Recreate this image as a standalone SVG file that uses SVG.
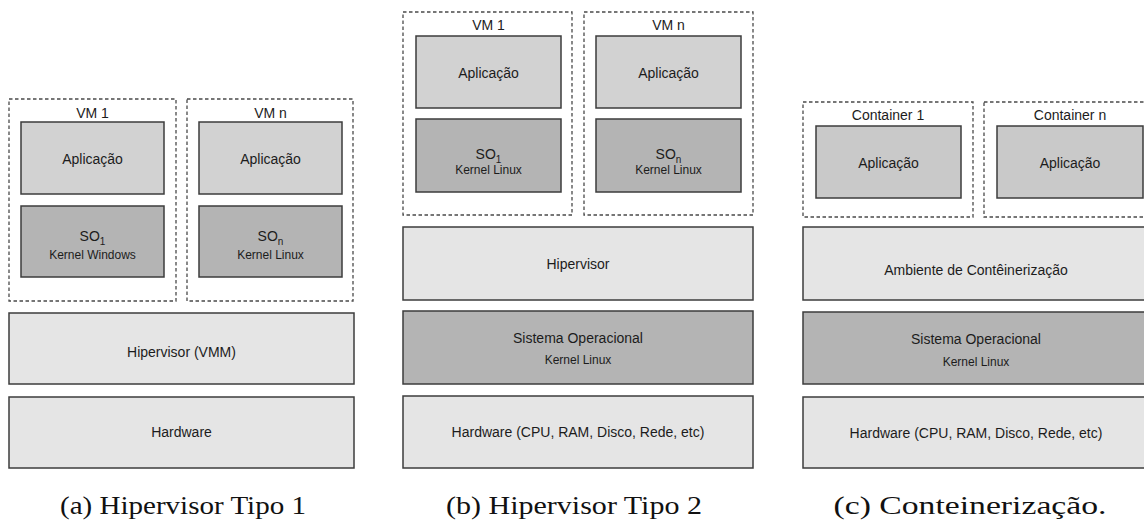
<svg xmlns="http://www.w3.org/2000/svg" width="1144" height="520" viewBox="0 0 1144 520">
  <style>
    .bg { fill: #ffffff; }
    .box { stroke: #3c3c3c; stroke-width: 1.5; }
    .light { fill: #e5e5e5; }
    .app { fill: #d2d2d2; }
    .app2 { fill: #c9c9c9; }
    .os { fill: #b4b4b4; }
    .group { fill: none; stroke: #4a4a4a; stroke-width: 1.3; stroke-dasharray: 3.5 2.5; }
    .lbl { font-family: "Liberation Sans", Arial, sans-serif; font-size: 14px; fill: #1c1c1c; text-anchor: middle; }
    .sub { font-family: "Liberation Sans", Arial, sans-serif; font-size: 12px; fill: #1c1c1c; text-anchor: middle; }
    .idx { font-size: 10px; }
    .cap { font-family: "Liberation Serif", "Times New Roman", serif; font-size: 26px; fill: #111; text-anchor: middle; }
  </style>
  <rect class="bg" x="0" y="0" width="1144" height="520"/>

  <!-- (a) Type 1 hypervisor -->
  <g id="panel-a">
    <g id="a-vm1">
      <rect class="group" x="9" y="99" width="167" height="202"/>
      <text class="lbl" x="92.5" y="118">VM 1</text>
      <rect class="box app" x="21" y="122" width="143" height="72"/>
      <text class="lbl" x="92.5" y="164">Aplicação</text>
      <rect class="box os" x="21" y="206" width="143" height="71"/>
      <text class="lbl" x="92.5" y="241">SO<tspan class="idx" dy="4">1</tspan></text>
      <text class="sub" x="92.5" y="259">Kernel Windows</text>
    </g>
    <g id="a-vmn">
      <rect class="group" x="187" y="99" width="166" height="202"/>
      <text class="lbl" x="270.5" y="118">VM n</text>
      <rect class="box app" x="199" y="122" width="143" height="72"/>
      <text class="lbl" x="270.5" y="164">Aplicação</text>
      <rect class="box os" x="199" y="206" width="143" height="71"/>
      <text class="lbl" x="270.5" y="241">SO<tspan class="idx" dy="4">n</tspan></text>
      <text class="sub" x="270.5" y="259">Kernel Linux</text>
    </g>
    <g id="a-hypervisor">
      <rect class="box light" x="9" y="313" width="345" height="71"/>
      <text class="lbl" x="181.5" y="357">Hipervisor (VMM)</text>
    </g>
    <g id="a-hardware">
      <rect class="box light" x="9" y="397" width="345" height="71"/>
      <text class="lbl" x="181.5" y="437">Hardware</text>
    </g>
    <text class="cap" x="183" y="514" textLength="246" lengthAdjust="spacingAndGlyphs">(a) Hipervisor Tipo 1</text>
  </g>

  <!-- (b) Type 2 hypervisor -->
  <g id="panel-b">
    <g id="b-vm1">
      <rect class="group" x="403" y="12" width="169" height="203"/>
      <text class="lbl" x="488.5" y="30">VM 1</text>
      <rect class="box app" x="416" y="36" width="145" height="72"/>
      <text class="lbl" x="488.5" y="78">Aplicação</text>
      <rect class="box os" x="416" y="119" width="145" height="73"/>
      <text class="lbl" x="488.5" y="159">SO<tspan class="idx" dy="4">1</tspan></text>
      <text class="sub" x="488.5" y="174">Kernel Linux</text>
    </g>
    <g id="b-vmn">
      <rect class="group" x="584" y="12" width="169" height="203"/>
      <text class="lbl" x="668.5" y="30">VM n</text>
      <rect class="box app" x="596" y="36" width="145" height="72"/>
      <text class="lbl" x="668.5" y="78">Aplicação</text>
      <rect class="box os" x="596" y="119" width="145" height="73"/>
      <text class="lbl" x="668.5" y="159">SO<tspan class="idx" dy="4">n</tspan></text>
      <text class="sub" x="668.5" y="174">Kernel Linux</text>
    </g>
    <g id="b-hypervisor">
      <rect class="box light" x="403" y="227" width="350" height="73"/>
      <text class="lbl" x="578" y="269">Hipervisor</text>
    </g>
    <g id="b-os">
      <rect class="box os" x="403" y="311" width="350" height="73"/>
      <text class="lbl" x="578" y="343">Sistema Operacional</text>
      <text class="sub" x="578" y="364">Kernel Linux</text>
    </g>
    <g id="b-hardware">
      <rect class="box light" x="403" y="396" width="350" height="72"/>
      <text class="lbl" x="578" y="437">Hardware (CPU, RAM, Disco, Rede, etc)</text>
    </g>
    <text class="cap" x="574" y="514" textLength="256" lengthAdjust="spacingAndGlyphs">(b) Hipervisor Tipo 2</text>
  </g>

  <!-- (c) Containerization -->
  <g id="panel-c">
    <g id="c-container1">
      <rect class="group" x="803" y="102" width="170" height="115"/>
      <text class="lbl" x="888" y="120">Container 1</text>
      <rect class="box app2" x="816" y="126" width="145" height="72"/>
      <text class="lbl" x="888.5" y="168">Aplicação</text>
    </g>
    <g id="c-containern">
      <rect class="group" x="984" y="102" width="172" height="115"/>
      <text class="lbl" x="1070" y="120">Container n</text>
      <rect class="box app2" x="997" y="126" width="146" height="72"/>
      <text class="lbl" x="1070" y="168">Aplicação</text>
    </g>
    <g id="c-runtime">
      <rect class="box light" x="803" y="227" width="353" height="73"/>
      <text class="lbl" x="976" y="275">Ambiente de Contêinerização</text>
    </g>
    <g id="c-os">
      <rect class="box os" x="803" y="312" width="353" height="72"/>
      <text class="lbl" x="976" y="344">Sistema Operacional</text>
      <text class="sub" x="976" y="366">Kernel Linux</text>
    </g>
    <g id="c-hardware">
      <rect class="box light" x="803" y="397" width="353" height="71"/>
      <text class="lbl" x="976" y="438">Hardware (CPU, RAM, Disco, Rede, etc)</text>
    </g>
    <text class="cap" x="970" y="514" textLength="273" lengthAdjust="spacingAndGlyphs">(c) Conteinerização.</text>
  </g>

  <!-- the layers are stacked without connectors -->
  <g id="connectors"/>
</svg>
